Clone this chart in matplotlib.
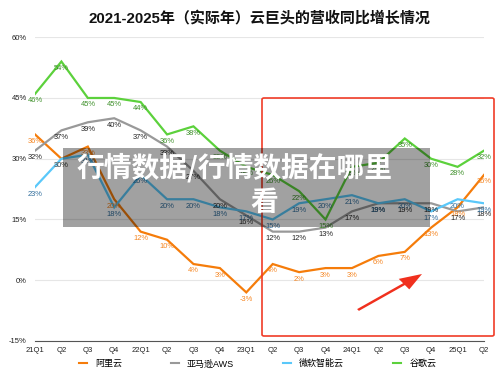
import numpy as np
import matplotlib.pyplot as plt
from matplotlib.patches import FancyBboxPatch, Rectangle, FancyArrow

plt.rcParams['font.family'] = ['Liberation Sans', 'Noto Sans CJK SC', 'DejaVu Sans']

quarters = ['21Q1', 'Q2', 'Q3', 'Q4', '22Q1', 'Q2', 'Q3', 'Q4', '23Q1', 'Q2', 'Q3', 'Q4',
            '24Q1', 'Q2', 'Q3', 'Q4', '25Q1', 'Q2']
alibaba = [36, 30, 33, 20, 12, 10, 4, 3, -3, 4, 2, 3, 3, 6, 7, 13, 18, 26]
aws = [32, 37, 39, 40, 37, 33, 27, 20, 16, 12, 12, 13, 17, 19, 19, 19, 17, 18]
azure = [23, 30, 31, 18, 26, 20, 20, 18, 17, 15, 19, 20, 21, 19, 20, 17, 20, 19]
google = [46, 54, 45, 45, 44, 36, 38, 32, 28, 26, 22, 15, 28, 29, 35, 30, 28, 32]

names = ['阿里云', '亚马逊AWS', '微软智能云', '谷歌云']
series = [alibaba, aws, azure, google]
line_colors = ['#f57c0a', '#999999', '#5ac8fa', '#5cd13c']
label_colors = ['#f5841f', '#222222', '#2f6d9c', '#3c8f28']

fig = plt.figure(figsize=(5, 3.75), dpi=100)
ax = fig.add_axes([0.07, 0.0907, 0.898, 0.81])

x = np.arange(len(quarters))
for vals, name, lc, tc in zip(series, names, line_colors, label_colors):
    ax.plot(x, vals, color=lc, lw=1.6, label=name, solid_joinstyle='miter')
    for xi, v in zip(x, vals):
        ax.annotate(f'{v}%', (xi, v), xytext=(0, -5), textcoords='offset points',
                    ha='center', va='center', fontsize=5.4, color=tc)

ax.set_xlim(0, len(quarters) - 1)
ax.set_ylim(-15, 60)
ax.set_yticks([-15, 0, 15, 30, 45, 60])
ax.set_yticklabels([f'{t}%' for t in [-15, 0, 15, 30, 45, 60]])
ax.set_xticks(x)
ax.set_xticklabels(quarters)
ax.tick_params(axis='both', length=0, labelsize=5.5, colors='#222222')
ax.tick_params(axis='y', pad=6)
ax.tick_params(axis='x', pad=4)
ax.grid(axis='y', color='#e6e6e6', lw=0.8)
for s in ['top', 'right', 'left']:
    ax.spines[s].set_visible(False)
ax.spines['bottom'].set_color('#555555')
ax.spines['bottom'].set_linewidth(0.8)
ax.set_axisbelow(True)

fig.text(0.518, 0.953, '2021-2025年（实际年）云巨头的营收同比增长情况', ha='center', va='center',
         fontsize=10.8, fontweight='heavy', color='#111111')

leg = fig.legend(loc='center', bbox_to_anchor=(0.515, 0.03), ncol=4, frameon=False,
                 fontsize=6.5, handlelength=0.9, columnspacing=5.4, handletextpad=0.9)
for h in leg.legend_handles:
    h.set_linewidth(1.5)

# red highlight box and arrow
fig.add_artist(FancyBboxPatch((262 / 500, 1 - 336 / 375), 232 / 500, 238 / 375,
                              boxstyle='round,pad=0,rounding_size=0.004',
                              transform=fig.transFigure, fill=False, ec='#f03c28', lw=1.2))
fig.add_artist(FancyArrow(358 / 500, 1 - 310 / 375, 64 / 500, 36 / 375, width=0.006,
                          head_width=0.035, head_length=0.045, length_includes_head=True,
                          transform=fig.transFigure, color='#f0301e', lw=0))

# watermark
fig.add_artist(Rectangle((63 / 500, 1 - 227 / 375), 367 / 500, 79 / 375,
                         transform=fig.transFigure, facecolor='black', alpha=0.37, lw=0))
fig.text(235 / 500, 1 - 168 / 375, '行情数据/行情数据在哪里', ha='center', va='center',
         fontsize=20, fontweight='heavy', color='white', family=['Noto Sans CJK SC'])
fig.text(264 / 500, 1 - 203 / 375, '看', ha='center', va='center',
         fontsize=20, fontweight='heavy', color='white', family=['Noto Sans CJK SC'])

fig.savefig('out.png', dpi=100)
